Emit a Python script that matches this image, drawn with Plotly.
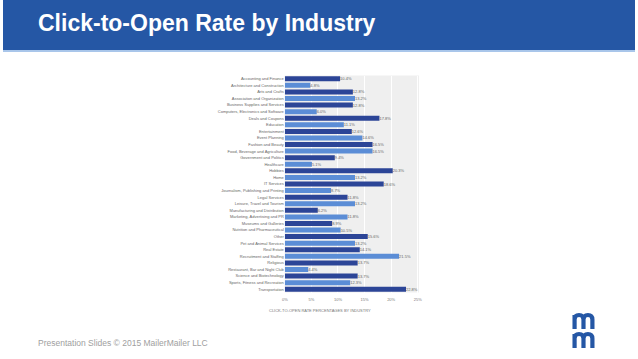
import plotly.graph_objects as go

industries = [
    "Accounting and Finance", "Architecture and Construction", "Arts and Crafts",
    "Association and Organization", "Business Supplies and Services",
    "Computers, Electronics and Software", "Deals and Coupons", "Education",
    "Entertainment", "Event Planning", "Fashion and Beauty",
    "Food, Beverage and Agriculture", "Government and Politics", "Healthcare",
    "Hobbies", "Home", "IT Services", "Journalism, Publishing and Printing",
    "Legal Services", "Leisure, Travel and Tourism", "Manufacturing and Distribution",
    "Marketing, Advertising and PR", "Museums and Galleries",
    "Nutrition and Pharmaceutical", "Other", "Pet and Animal Services", "Real Estate",
    "Recruitment and Staffing", "Religious", "Restaurant, Bar and Night Club",
    "Science and Biotechnology", "Sports, Fitness and Recreation", "Transportation",
]
cto_rate = [
    10.4, 4.8, 12.8, 13.2, 12.8, 6.0, 17.8, 11.1, 12.6, 14.6, 16.5, 16.5, 9.4, 5.1,
    20.3, 13.2, 18.6, 8.7, 11.8, 13.2, 6.2, 11.8, 8.9, 10.5, 15.6, 13.2, 14.1, 21.5,
    13.7, 4.4, 13.7, 12.3, 22.8,
]
x_ticks = [0, 5, 10, 15, 20, 25]
x_tick_labels = ["0%", "5%", "10%", "15%", "20%", "25%"]

DARK = "#2c4597"
LIGHT = "#5b8dd6"
BRAND = "#2557a5"
colors = [DARK if i % 2 == 0 else LIGHT for i in range(len(industries))]
labels = [f"{v:.1f}%" for v in cto_rate]

W, H = 638, 359
def py(p):
    return 1 - p / H
def px_(p):
    return p / W

fig = go.Figure(go.Bar(
    x=cto_rate, y=industries, orientation="h",
    marker=dict(color=colors, line=dict(width=0)),
    width=0.76,
    text=labels, textposition="outside",
    textfont=dict(size=4, color="#666666", family="Liberation Sans"),
    cliponaxis=False,
))

def m_path(top, bottom, left, right):
    # stroke-based bold "m" logo glyph, in paper coordinates
    mid = (left + right) / 2
    r = (mid - left) / 2
    arch = top + r
    def P(x, y):
        return f"{px_(x):.5f},{py(y):.5f}"
    d = (f"M{P(left, bottom)} L{P(left, top)} "
         f"M{P(left, arch)} Q{P(left, top)} {P(left + r, top)} Q{P(mid, top)} {P(mid, arch)} L{P(mid, bottom)} "
         f"M{P(mid, arch)} Q{P(mid, top)} {P(mid + r, top)} Q{P(right, top)} {P(right, arch)} L{P(right, bottom)}")
    return dict(type="path", xref="paper", yref="paper", path=d,
                line=dict(color=BRAND, width=4.2), layer="above")

fig.update_layout(
    width=W, height=H,
    margin=dict(l=0, r=0, t=0, b=0),
    paper_bgcolor="white",
    plot_bgcolor="#efefef",
    showlegend=False,
    font=dict(family="Liberation Sans", color="#666666"),
    xaxis=dict(
        domain=[px_(284.5), px_(420)],
        range=[0, 25.25],
        tickvals=x_ticks, ticktext=x_tick_labels,
        tickfont=dict(size=4, color="#777777"),
        showgrid=True, gridcolor="#ffffff", gridwidth=1,
        zeroline=False, showline=False, ticks="",
        ticklabelstandoff=3,
        anchor="y",
    ),
    yaxis=dict(
        domain=[py(292.5), py(75.5)],
        autorange="reversed",
        tickfont=dict(size=4, color="#666666"),
        showgrid=False, zeroline=False, showline=False, ticks="",
        anchor="x",
    ),
    shapes=[
        dict(type="rect", xref="paper", yref="paper", x0=0, x1=1, y0=py(50), y1=1,
             fillcolor=BRAND, line=dict(width=0), layer="below"),
        dict(type="rect", xref="paper", yref="paper", x0=0, x1=1, y0=py(52), y1=py(50),
             fillcolor="#a9c6ea", line=dict(width=0), layer="below"),
        m_path(315, 329, 577, 595),
        m_path(334, 348, 577, 595),
    ],
    annotations=[
        dict(text="<b>Click-to-Open Rate by Industry</b>", xref="paper", yref="paper",
             x=px_(33), y=py(23), xanchor="left", yanchor="middle", showarrow=False,
             font=dict(size=23, color="white", family="Liberation Sans")),
        dict(text="CLICK-TO-OPEN RATE PERCENTAGES BY INDUSTRY", xref="paper", yref="paper",
             x=px_(320), y=py(310), xanchor="center", yanchor="middle", showarrow=False,
             font=dict(size=4, color="#777777", family="Liberation Sans")),
        dict(text="Presentation Slides © 2015 MailerMailer LLC", xref="paper", yref="paper",
             x=px_(33), y=py(343), xanchor="left", yanchor="middle", showarrow=False,
             font=dict(size=8.5, color="#a0a0a0", family="Liberation Sans")),
    ],
)

fig.write_html(
    "out.html",
    config={"displayModeBar": False},
    post_script="document.body.style.margin='0';document.body.style.padding='0';",
)
